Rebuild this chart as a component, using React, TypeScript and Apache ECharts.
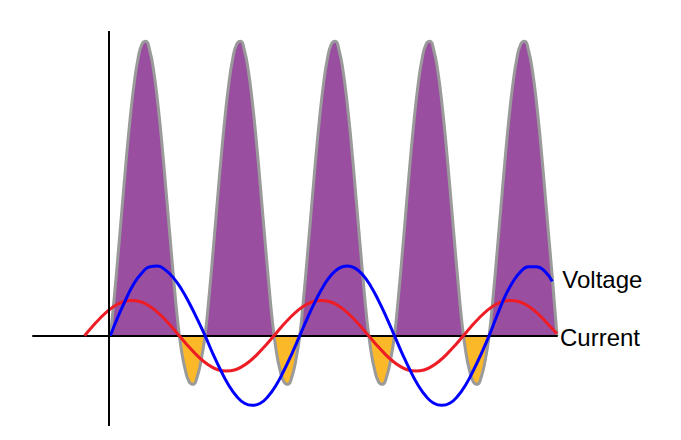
import React, { useEffect, useRef } from "react";
import * as echarts from "echarts";

// Horizontal axis: phase of the voltage in degrees.
const X_MIN = -150;
const X_MAX = 846;
const Y_AXIS_AT = -5.7; // where the vertical axis crosses

// Instantaneous power p = v·i, relative to its peak, sampled every 7.5°
const powerStart = -3;
const powerStep = 7.5;
const power = [
  0, 0.131, 0.281, 0.438, 0.593, 0.734, 0.852, 0.939, 0.989, 0.999, 0.967, 0.897,
  0.792, 0.661, 0.511, 0.354, 0.2, 0.058, -0.048, -0.117, -0.157, -0.165, -0.14, -0.084,
  0, 0.131, 0.281, 0.438, 0.593, 0.734, 0.852, 0.939, 0.989, 0.999, 0.967, 0.897,
  0.792, 0.661, 0.511, 0.354, 0.2, 0.058, -0.048, -0.117, -0.157, -0.165, -0.14, -0.084,
  0, 0.131, 0.281, 0.438, 0.593, 0.734, 0.852, 0.939, 0.989, 0.999, 0.967, 0.897,
  0.792, 0.661, 0.511, 0.354, 0.2, 0.058, -0.048, -0.117, -0.157, -0.165, -0.14, -0.084,
  0, 0.131, 0.281, 0.438, 0.593, 0.734, 0.852, 0.939, 0.989, 0.999, 0.967, 0.897,
  0.792, 0.661, 0.511, 0.354, 0.2, 0.058, -0.048, -0.117, -0.157, -0.165, -0.14, -0.084,
  0, 0.131, 0.281, 0.438, 0.593, 0.734, 0.852, 0.939, 0.989, 0.999, 0.967, 0.897,
  0.792, 0.661, 0.511, 0.354, 0.2,
];
const powerEnd = [846, 0];

// Voltage (relative to its amplitude), sampled every 15°
const voltageStart = -3;
const voltageStep = 15;
const voltage = [
  0, 0.28, 0.53, 0.75, 0.9, 0.99, 1.0, 0.94, 0.83, 0.67, 0.47, 0.24,
  0, -0.26, -0.5, -0.71, -0.87, -0.97, -1, -0.97, -0.87, -0.71, -0.5, -0.26,
  0, 0.26, 0.5, 0.71, 0.87, 0.97, 1, 0.97, 0.87, 0.71, 0.5, 0.26,
  0, -0.26, -0.5, -0.71, -0.87, -0.97, -1, -0.97, -0.87, -0.71, -0.5, -0.26,
  0, 0.29, 0.56, 0.77, 0.92, 0.99, 0.99, 0.93, 0.78,
];

// Current (relative to its amplitude), leading the voltage, sampled every 15°
const currentStart = -52;
const currentStep = 15;
const current = [
  0, 0.26, 0.5, 0.71, 0.87, 0.97, 1, 0.97, 0.87, 0.71, 0.5, 0.26,
  0, -0.26, -0.5, -0.71, -0.87, -0.97, -1, -0.97, -0.87, -0.71, -0.5, -0.26,
  0, 0.26, 0.5, 0.71, 0.87, 0.97, 1, 0.97, 0.87, 0.71, 0.5, 0.26,
  0, -0.26, -0.5, -0.71, -0.87, -0.97, -1, -0.97, -0.87, -0.71, -0.5, -0.26,
  0, 0.26, 0.5, 0.71, 0.87, 0.97, 1, 0.97, 0.87, 0.71, 0.5, 0.26,
];
const currentEnd = [846, 0.06];

const seriesNames = ["Power", "Voltage", "Current"];

const PURPLE = "#994ea0";
const ORANGE = "#fbb829";
const OUTLINE = "#9a9a9a";
const BLUE = "#0000ff";
const RED = "#ee1c24";
const FONT = "Liberation Sans";

const toPairs = (start: number, step: number, values: number[]) =>
  values.map((v, i) => [start + i * step, v]);

export default function App() {
  const ref = useRef<HTMLDivElement>(null);

  useEffect(() => {
    document.body.style.margin = "0";
    if (!ref.current) return;
    const chart = echarts.init(ref.current, undefined, { renderer: "svg" });

    const powerData = [...toPairs(powerStart, powerStep, power), powerEnd];
    const voltageData = toPairs(voltageStart, voltageStep, voltage);
    const currentData = [...toPairs(currentStart, currentStep, current), currentEnd];

    chart.setOption({
      animation: false,
      grid: { left: 33, right: 124, top: 31, bottom: 14 },
      xAxis: {
        type: "value",
        min: X_MIN,
        max: X_MAX,
        z: 2,
        axisLine: { show: true, onZero: true, lineStyle: { color: "#000", width: 2 } },
        axisTick: { show: false },
        axisLabel: { show: false },
        splitLine: { show: false },
      },
      yAxis: [
        { type: "value", min: -0.3064, max: 1.034, show: false },
        { type: "value", min: -1.296, max: 4.372, show: false },
        { type: "value", min: -2.558, max: 8.632, show: false },
      ],
      visualMap: {
        show: false,
        type: "piecewise",
        seriesIndex: 0,
        dimension: 1,
        pieces: [
          { gte: -5, lt: 0, color: ORANGE },
          { gte: 0, lte: 5, color: PURPLE },
        ],
        outOfRange: { color: PURPLE },
      },
      series: [
        {
          name: seriesNames[0],
          type: "line",
          yAxisIndex: 0,
          data: powerData,
          smooth: true,
          showSymbol: false,
          z: 1,
          lineStyle: { color: OUTLINE, width: 3 },
          areaStyle: { opacity: 1 },
          silent: true,
          markLine: {
            silent: true,
            symbol: ["none", "none"],
            label: { show: false },
            lineStyle: { color: "#000", width: 2, type: "solid" },
            data: [{ xAxis: Y_AXIS_AT }],
          },
        },
        {
          name: seriesNames[2],
          type: "line",
          yAxisIndex: 2,
          data: currentData,
          smooth: true,
          showSymbol: false,
          z: 3,
          lineStyle: { color: RED, width: 3 },
          itemStyle: { color: RED },
          endLabel: {
            show: true,
            formatter: seriesNames[2],
            color: "#000",
            fontSize: 24,
            fontFamily: FONT,
            distance: 3,
            offset: [0, 4],
          },
        },
        {
          name: seriesNames[1],
          type: "line",
          yAxisIndex: 1,
          data: voltageData,
          smooth: true,
          showSymbol: false,
          z: 4,
          lineStyle: { color: BLUE, width: 3 },
          itemStyle: { color: BLUE },
          endLabel: {
            show: true,
            formatter: seriesNames[1],
            color: "#000",
            fontSize: 24,
            fontFamily: FONT,
            distance: 10,
            offset: [0, -2],
          },
        },
      ],
    });

    return () => chart.dispose();
  }, []);

  return <div ref={ref} style={{ width: 681, height: 440 }} />;
}
